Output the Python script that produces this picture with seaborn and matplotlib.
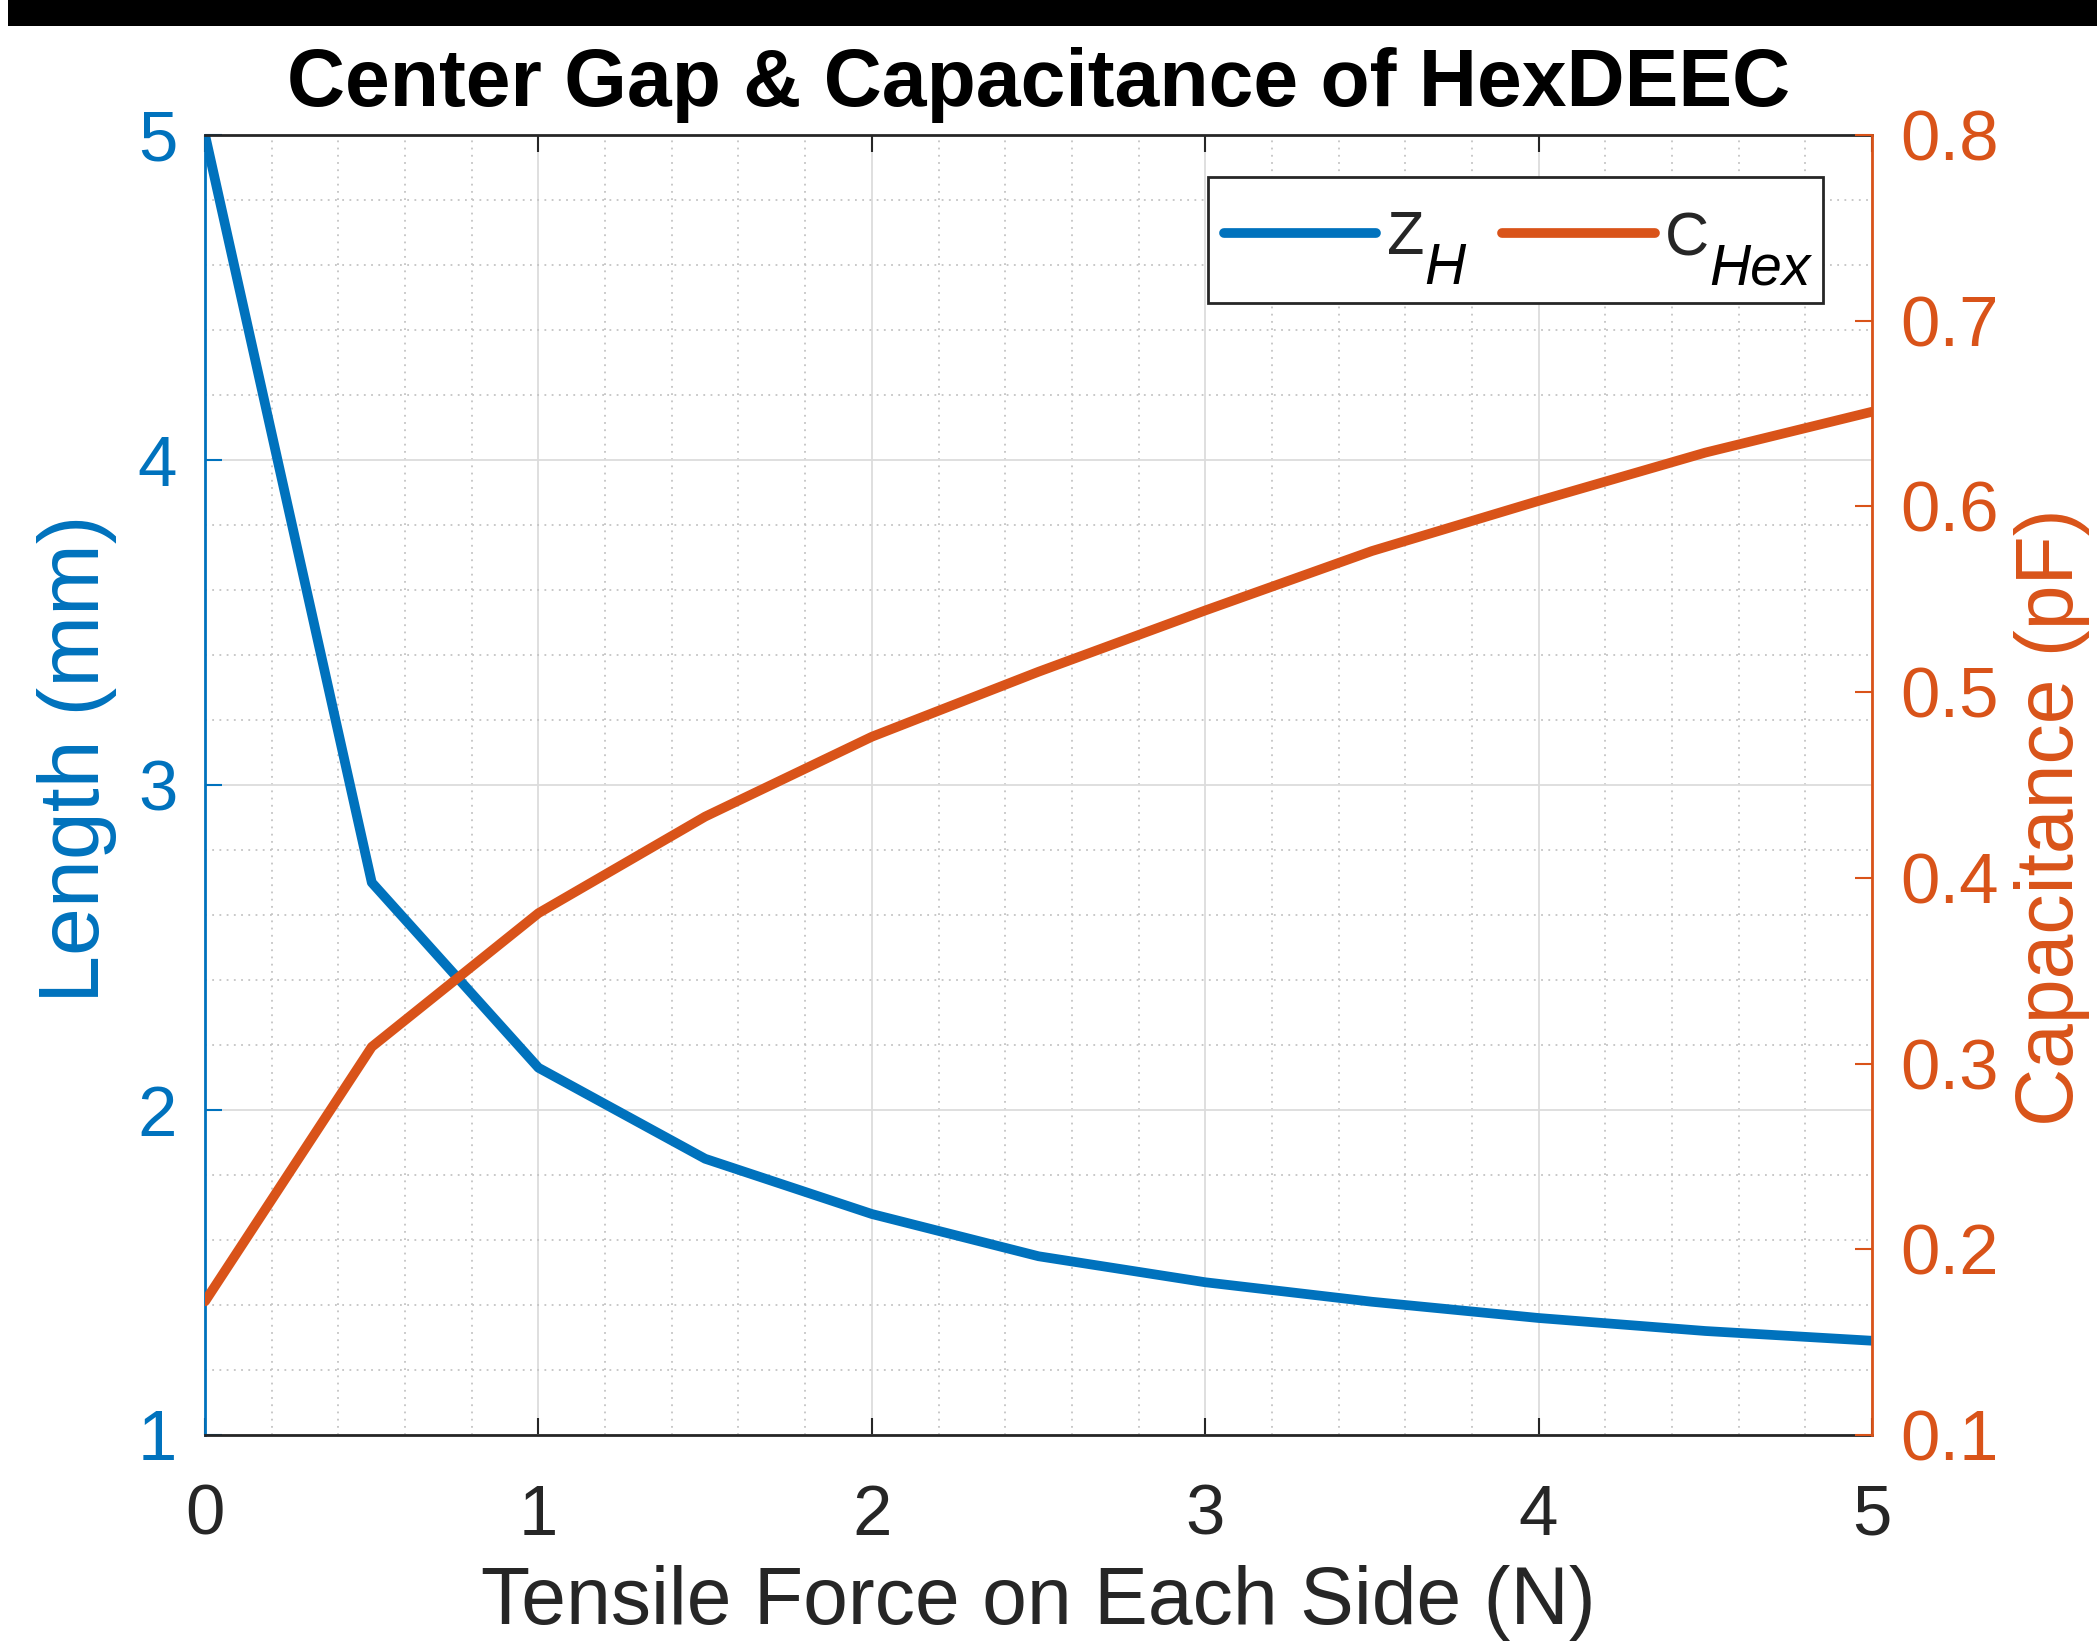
import matplotlib
matplotlib.use("Agg")
import matplotlib.pyplot as plt
import seaborn as sns
import numpy as np
import pandas as pd
from matplotlib.ticker import MultipleLocator
from matplotlib.patches import Rectangle

# values
force_n = [0, 0.5, 1, 1.5, 2, 2.5, 3, 3.5, 4, 4.5, 5]
gap_mm = [5.00, 2.70, 2.13, 1.85, 1.68, 1.55, 1.47, 1.41, 1.36, 1.32, 1.29]
cap_pf = [0.172, 0.309, 0.381, 0.433, 0.476, 0.511, 0.544, 0.576, 0.603, 0.629, 0.651]

x_ticks = [0, 1, 2, 3, 4, 5]
left_ticks = [1, 2, 3, 4, 5]
right_ticks = [0.1, 0.2, 0.3, 0.4, 0.5, 0.6, 0.7, 0.8]
legend_main = ["Z", "C"]
legend_sub = ["H", "Hex"]

BLUE = "#0072BD"
ORANGE = "#D95319"
DARK = "#262626"

sns.set_theme(style="white")
plt.rcParams["font.family"] = ["Liberation Sans", "DejaVu Sans"]
plt.rcParams["mathtext.fontset"] = "custom"
plt.rcParams["mathtext.rm"] = "Liberation Sans"
plt.rcParams["mathtext.it"] = "Liberation Sans:italic"

df = pd.DataFrame({"force": force_n, "gap": gap_mm, "cap": cap_pf})

fig = plt.figure(figsize=(20.97, 16.43), dpi=100)
fig.patch.set_facecolor("white")
ax = fig.add_axes([0.0978, 0.1266, 0.7949, 0.7912])
ax2 = ax.twinx()

# black strip along the top edge of the picture
fig.patches.append(Rectangle((0.004, 1 - 26 / 1643), 0.996, 26 / 1643,
                             transform=fig.transFigure, facecolor="black",
                             edgecolor="none", zorder=10))

sns.lineplot(data=df, x="force", y="gap", ax=ax, color=BLUE, linewidth=7,
             legend=False)
sns.lineplot(data=df, x="force", y="cap", ax=ax2, color=ORANGE, linewidth=7,
             legend=False)

ax.set_xlim(0, 5)
ax.set_ylim(1, 5)
ax2.set_ylim(0.1, 0.8)
ax.set_xticks(x_ticks)
ax.set_yticks(left_ticks)
ax2.set_yticks(right_ticks)
ax.set_xticklabels([str(t) for t in x_ticks])
ax.set_yticklabels([str(t) for t in left_ticks])
ax2.set_yticklabels([f"{t:.1f}" for t in right_ticks])
ax.xaxis.set_minor_locator(MultipleLocator(0.2))
ax.yaxis.set_minor_locator(MultipleLocator(0.2))

# grid like matlab: solid major, dotted minor
ax.set_axisbelow(True)
ax.grid(which="major", color="#dcdcdc", linewidth=1.3, linestyle="-")
ax.grid(which="minor", color="#c4c4c4", linewidth=1.3, linestyle=(0, (1, 3)))
ax2.grid(False)

ax.tick_params(axis="x", which="major", direction="in", length=12, width=1.5,
               top=True, bottom=True, colors=DARK, labelsize=51, pad=35)
ax.tick_params(axis="y", which="major", direction="in", length=12, width=1.5,
               left=True, right=False, colors=BLUE, labelsize=51, pad=20)
ax.tick_params(which="minor", length=0)
ax2.tick_params(axis="y", which="major", direction="in", length=12, width=1.5,
                right=True, left=False, colors=ORANGE, labelsize=51, pad=20)
ax2.tick_params(which="minor", length=0)

for a in (ax, ax2):
    for s in a.spines.values():
        s.set_linewidth(2)
ax.spines["top"].set_color(DARK)
ax.spines["bottom"].set_color(DARK)
ax.spines["left"].set_color(BLUE)
ax.spines["right"].set_visible(False)
ax2.spines["right"].set_color(ORANGE)
ax2.spines["left"].set_visible(False)
ax2.spines["top"].set_visible(False)
ax2.spines["bottom"].set_visible(False)

ax.set_title("Center Gap & Capacitance of HexDEEC", fontsize=58,
             fontweight="bold", color="black", pad=21)
ax.set_xlabel("Tensile Force on Each Side (N)", fontsize=58, color=DARK)
ax.xaxis.set_label_coords(0.5, -0.10)
ax.set_ylabel("Length (mm)", fontsize=62, color=BLUE, va="center")
ax.yaxis.set_label_coords(-0.077, 0.52)
ax2.set_ylabel("Capacitance (pF)", fontsize=58, color=ORANGE, rotation=90,
               va="center")
ax2.yaxis.set_label_coords(1.108, 0.475)

# legend: matlab style big subscripts, so subscripts are drawn next to the
# legend letters and the frame is drawn around both
handles = ax.get_lines()[:1] + ax2.get_lines()[:1]
labels = [r"$\mathregular{%s}$" % m for m in legend_main]
leg = ax2.legend(handles, labels, ncol=2, loc="upper left",
                 bbox_to_anchor=(0.611, 0.942), borderaxespad=0, borderpad=0,
                 fontsize=44, frameon=False, handlelength=2.5,
                 handletextpad=0.15, columnspacing=1.3)
leg.set_zorder(6)

SUB_DROP = 17  # px below the letter's baseline

fig.canvas.draw()
renderer = fig.canvas.get_renderer()
to_axes = ax2.transAxes.inverted()
sub_texts = []
for txt, sub in zip(leg.get_texts(), legend_sub):
    bb = txt.get_window_extent(renderer)
    sx, sy = to_axes.transform((bb.x1 + 1, bb.y0 - SUB_DROP))
    st = ax2.text(sx, sy, sub, transform=ax2.transAxes, fontsize=41,
                  fontstyle="italic", color="black", ha="left", va="baseline",
                  zorder=7)
    sub_texts.append((st, bb))

fig.canvas.draw()
lb = leg.get_window_extent(renderer)
last_sub = sub_texts[-1][0].get_window_extent(renderer)
z_top = max(bb.y1 for _, bb in sub_texts)
sub_base = sub_texts[0][1].y0 - SUB_DROP
x0, y0 = to_axes.transform((lb.x0 - 16, sub_base - 19))
x1, y1 = to_axes.transform((last_sub.x1 + 12, z_top + 33))
ax2.add_patch(Rectangle((x0, y0), x1 - x0, y1 - y0, transform=ax2.transAxes,
                        facecolor="white", edgecolor=DARK, linewidth=2,
                        zorder=5, clip_on=False))

fig.savefig("out.png", dpi=100)
